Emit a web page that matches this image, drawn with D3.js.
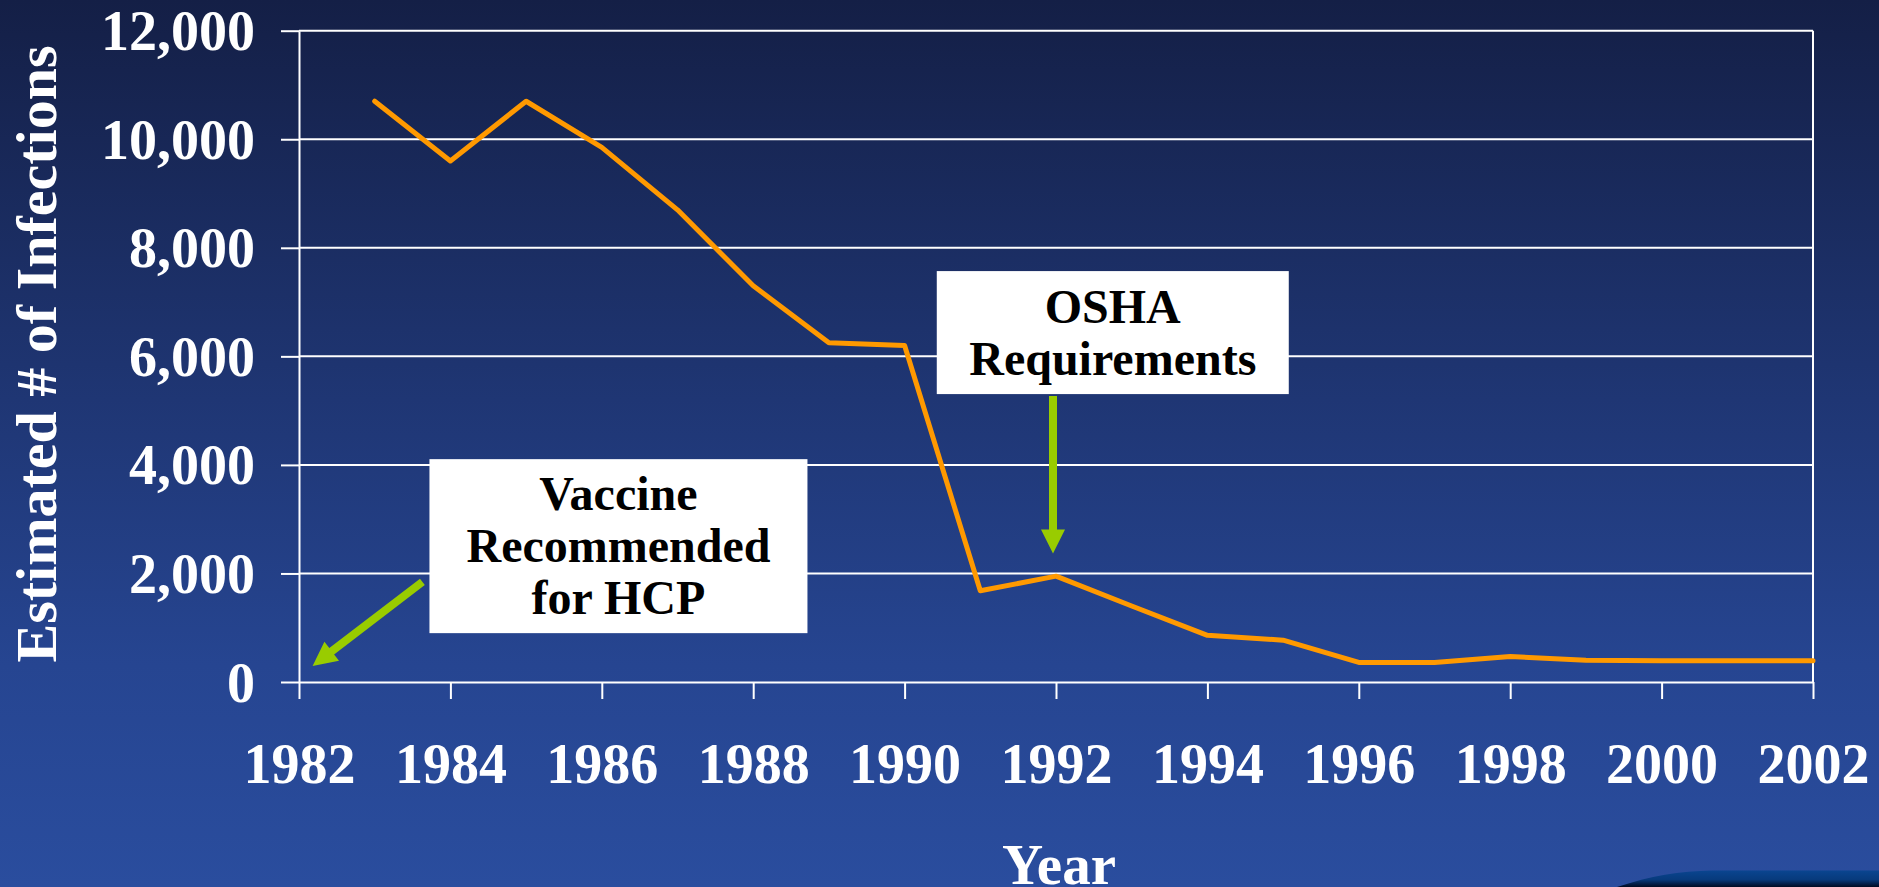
<!DOCTYPE html>
<html>
<head>
<meta charset="utf-8">
<script src="https://d3js.org/d3.v7.min.js"></script>
<style>
  html, body { margin: 0; padding: 0; overflow: hidden; }
  svg { display: block; }
  text { font-family: "Liberation Serif", "Times New Roman", serif; font-weight: bold; }
</style>
</head>
<body>
<svg id="chart"></svg>
<script>
// chart values
var years = [1983, 1984, 1985, 1986, 1987, 1988, 1989, 1990, 1991, 1992,
             1993, 1994, 1995, 1996, 1997, 1998, 1999, 2000, 2001, 2002];
var infections = [10700, 9600, 10700, 9850, 8700, 7300, 6250, 6200, 1680, 1950,
                  1400, 860, 770, 360, 360, 470, 400, 390, 390, 390];
var yTicks = [0, 2000, 4000, 6000, 8000, 10000, 12000];
var xTicks = [1982, 1984, 1986, 1988, 1990, 1992, 1994, 1996, 1998, 2000, 2002];

// annotation boxes (centre year, top value) and arrows (tail -> tip, in data units)
var noteLines = [["Vaccine", "Recommended", "for HCP"], ["OSHA", "Requirements"]];
var noteBoxAt = [[1986.22, 4106], [1992.75, 7571]];
var noteArrows = [[[1983.63, 1845], [1982.18, 297]], [[1991.96, 5267], [1991.96, 2368]]];

var width = 1879, height = 887;
var margin = {top: 30.7, right: 66, bottom: 205, left: 299};
var boxSize = [[378, 174], [352, 123]];

var svg = d3.select("#chart").attr("width", width).attr("height", height);

// background gradient
var defs = svg.append("defs");
var bg = defs.append("linearGradient").attr("id", "bg").attr("x1", 0).attr("y1", 0).attr("x2", 0).attr("y2", 1);
bg.append("stop").attr("offset", "0%").attr("stop-color", "#141f46");
bg.append("stop").attr("offset", "45%").attr("stop-color", "#1f3674");
bg.append("stop").attr("offset", "75%").attr("stop-color", "#264591");
bg.append("stop").attr("offset", "100%").attr("stop-color", "#2a4d9e");
var sw = defs.append("linearGradient").attr("id", "swoosh").attr("x1", 0).attr("y1", 0).attr("x2", 0).attr("y2", 1);
sw.append("stop").attr("offset", "0%").attr("stop-color", "#0a4590");
sw.append("stop").attr("offset", "55%").attr("stop-color", "#073a7c");
sw.append("stop").attr("offset", "100%").attr("stop-color", "#000a22");

svg.append("rect").attr("width", width).attr("height", height).attr("fill", "url(#bg)");

// little swoosh at the bottom right corner
svg.append("path")
    .attr("d", "M1617,887 C1650,876 1680,871 1712,870.5 L1879,870.5 L1879,887 Z")
    .attr("fill", "url(#swoosh)");

var innerW = width - margin.left - margin.right;
var innerH = height - margin.top - margin.bottom;

var x = d3.scaleLinear().domain([1982, 2002]).range([margin.left, margin.left + innerW]);
var y = d3.scaleLinear().domain([0, 12000]).range([margin.top + innerH, margin.top]);

// gridlines
svg.append("g")
    .selectAll("line")
    .data(yTicks.filter(function(d) { return d > 0; }))
    .enter()
    .append("line")
        .attr("x1", x(1982)).attr("x2", x(2002))
        .attr("y1", function(d) { return y(d); })
        .attr("y2", function(d) { return y(d); })
        .attr("stroke", "#ffffff")
        .attr("stroke-width", 2);

// right border
svg.append("line")
    .attr("x1", x(2002)).attr("x2", x(2002))
    .attr("y1", y(12000)).attr("y2", y(0))
    .attr("stroke", "#ffffff").attr("stroke-width", 2);

var yAxis = svg.append("g")
    .attr("transform", "translate(" + margin.left + ",0)")
    .call(d3.axisLeft(y).tickValues(yTicks).tickSize(18).tickSizeOuter(0).tickPadding(26)
        .tickFormat(d3.format(",")));

var xAxis = svg.append("g")
    .attr("transform", "translate(0," + y(0) + ")")
    .call(d3.axisBottom(x).tickValues(xTicks).tickSize(17).tickSizeOuter(0)
        .tickFormat(d3.format("d")));

[yAxis, xAxis].forEach(function(ax) {
    ax.select(".domain").attr("stroke", "#ffffff").attr("stroke-width", 2);
    ax.selectAll(".tick line").attr("stroke", "#ffffff").attr("stroke-width", 2);
    ax.selectAll(".tick text")
        .attr("fill", "#ffffff")
        .style("font-family", "'Liberation Serif', 'Times New Roman', serif")
        .style("font-weight", "bold")
        .style("font-size", "56px");
});
yAxis.selectAll(".tick text").attr("dy", "0.34em");
xAxis.selectAll(".tick text").attr("y", 101).attr("dy", 0);

// axis titles
svg.append("text")
    .attr("transform", "translate(56," + 354 + ") rotate(-90)")
    .attr("text-anchor", "middle")
    .attr("fill", "#ffffff")
    .style("font-size", "58px")
    .text("Estimated # of Infections");

svg.append("text")
    .attr("x", (x(1982) + x(2002)) / 2 + 3)
    .attr("y", 884)
    .attr("text-anchor", "middle")
    .attr("fill", "#ffffff")
    .style("font-size", "57px")
    .text("Year");

// data line
var line = d3.line()
    .x(function(d, i) { return x(years[i]); })
    .y(function(d) { return y(d); });

svg.append("path")
    .datum(infections)
    .attr("d", line)
    .attr("fill", "none")
    .attr("stroke", "#ff9900")
    .attr("stroke-width", 5)
    .attr("stroke-linejoin", "round")
    .attr("stroke-linecap", "round");

// annotation boxes
noteLines.forEach(function(lines, i) {
    var cx = x(noteBoxAt[i][0]);
    var top = y(noteBoxAt[i][1]);
    var w = boxSize[i][0], h = boxSize[i][1];
    var g = svg.append("g");
    g.append("rect")
        .attr("x", cx - w / 2).attr("y", top)
        .attr("width", w).attr("height", h)
        .attr("fill", "#ffffff");
    var lineGap = 52;
    var first = top + h / 2 - (lines.length - 1) * lineGap / 2 + 16;
    g.selectAll("text")
        .data(lines)
        .enter()
        .append("text")
            .attr("x", cx)
            .attr("y", function(d, j) { return first + j * lineGap; })
            .attr("text-anchor", "middle")
            .attr("fill", "#000000")
            .style("font-size", "48px")
            .text(function(d) { return d; });
});

// green arrows
function arrowPath(x0, y0, x1, y1) {
    var dx = x1 - x0, dy = y1 - y0;
    var len = Math.sqrt(dx * dx + dy * dy);
    var ux = dx / len, uy = dy / len;
    var px = -uy, py = ux;
    var shaft = 4, head = 12, headLen = 24;
    var bx = x1 - ux * headLen, by = y1 - uy * headLen;
    var pts = [
        [x0 + px * shaft, y0 + py * shaft],
        [bx + px * shaft, by + py * shaft],
        [bx + px * head, by + py * head],
        [x1, y1],
        [bx - px * head, by - py * head],
        [bx - px * shaft, by - py * shaft],
        [x0 - px * shaft, y0 - py * shaft]
    ];
    return "M" + pts.map(function(p) { return p[0].toFixed(1) + "," + p[1].toFixed(1); }).join("L") + "Z";
}

svg.append("g")
    .selectAll("path")
    .data(noteArrows)
    .enter()
    .append("path")
        .attr("d", function(a) {
            return arrowPath(x(a[0][0]), y(a[0][1]), x(a[1][0]), y(a[1][1]));
        })
        .attr("fill", "#99cc00");
</script>
</body>
</html>
